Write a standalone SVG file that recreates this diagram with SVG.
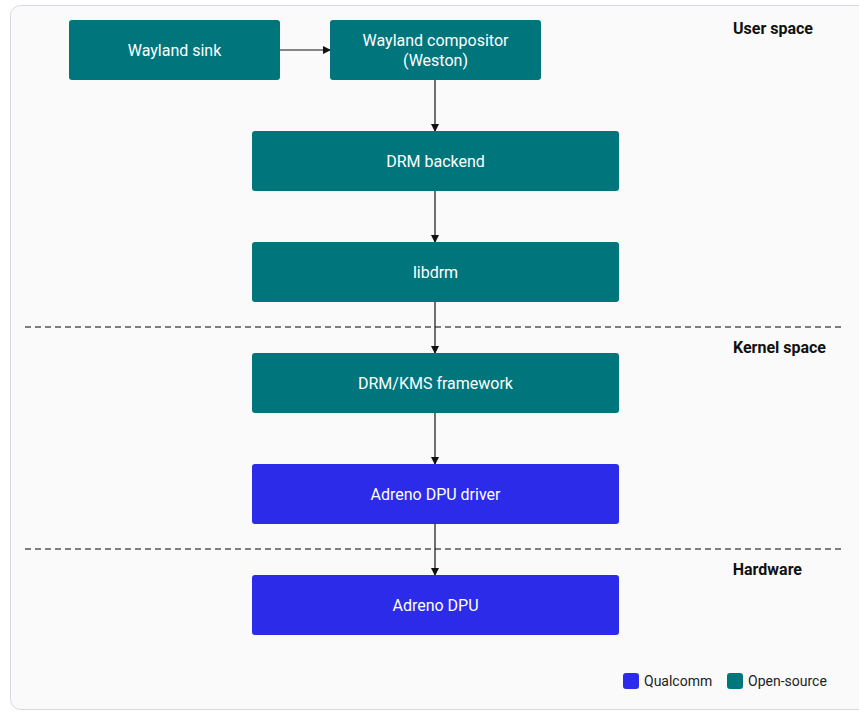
<svg xmlns="http://www.w3.org/2000/svg" width="859" height="719" viewBox="0 0 859 719">
<style>
.frame{fill:#fafafa;stroke:#d8d8e4;stroke-width:1}
.os{fill:#00767c}
.qc{fill:#2b2be9}
.lbl{font-family:Roboto,"Liberation Sans",sans-serif;font-size:16px;fill:#ffffff;text-anchor:middle;dominant-baseline:central}
.sec{font-family:Roboto,"Liberation Sans",sans-serif;font-size:16px;font-weight:bold;fill:#111111;text-anchor:end;dominant-baseline:central}
.leg{font-family:Roboto,"Liberation Sans",sans-serif;font-size:14px;fill:#222222;dominant-baseline:central}
.edge{stroke:#111111;stroke-width:1.2;fill:none;marker-end:url(#ah)}
.dash{stroke:#555555;stroke-width:1.3;stroke-dasharray:6 4;fill:none}
</style>
<defs>
<marker id="ah" markerWidth="8" markerHeight="8" refX="7" refY="4" orient="auto" markerUnits="userSpaceOnUse">
<path d="M0,0 L8,4 L0,8 Z" fill="#111111"/>
</marker>
</defs>
<rect class="frame" x="10.5" y="5.5" width="860" height="704" rx="10"/>
<g id="separators">
<line class="dash" x1="25" y1="327" x2="845" y2="327"/>
<line class="dash" x1="25" y1="549" x2="845" y2="549"/>
</g>
<g id="sections">
<text class="sec" x="813" y="28">User space</text>
<text class="sec" x="826" y="347">Kernel space</text>
<text class="sec" x="802" y="569">Hardware</text>
</g>
<g id="connectors">
<line class="edge" x1="280" y1="50" x2="330" y2="50"/>
<line class="edge" x1="435" y1="80" x2="435" y2="131"/>
<line class="edge" x1="435" y1="191" x2="435" y2="242"/>
<line class="edge" x1="435" y1="302" x2="435" y2="353"/>
<line class="edge" x1="435" y1="413" x2="435" y2="464"/>
<line class="edge" x1="435" y1="524" x2="435" y2="575"/>
</g>
<g id="wayland-sink"><rect class="os" x="69" y="20" width="211" height="60" rx="3"/><text class="lbl" x="174.5" y="50">Wayland sink</text></g>
<g id="wayland-compositor"><rect class="os" x="330" y="20" width="211" height="60" rx="3"/><text class="lbl" x="435.5" y="40">Wayland compositor</text><text class="lbl" x="435.5" y="60">(Weston)</text></g>
<g id="drm-backend"><rect class="os" x="252" y="131" width="367" height="60" rx="3"/><text class="lbl" x="435.5" y="161">DRM backend</text></g>
<g id="libdrm"><rect class="os" x="252" y="242" width="367" height="60" rx="3"/><text class="lbl" x="435.5" y="272">libdrm</text></g>
<g id="drm-kms"><rect class="os" x="252" y="353" width="367" height="60" rx="3"/><text class="lbl" x="435.5" y="383">DRM/KMS framework</text></g>
<g id="dpu-driver"><rect class="qc" x="252" y="464" width="367" height="60" rx="3"/><text class="lbl" x="435.5" y="494">Adreno DPU driver</text></g>
<g id="dpu"><rect class="qc" x="252" y="575" width="367" height="60" rx="3"/><text class="lbl" x="435.5" y="605">Adreno DPU</text></g>
<g id="legend">
<rect class="qc" x="623" y="673" width="16" height="16" rx="3"/><text class="leg" x="644" y="681">Qualcomm</text>
<rect class="os" x="727" y="673" width="16" height="16" rx="3"/><text class="leg" x="748" y="681">Open-source</text>
</g>
</svg>
